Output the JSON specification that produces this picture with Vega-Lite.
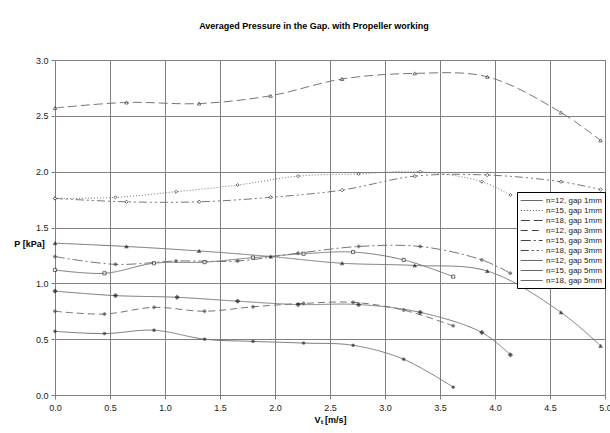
{
  "$schema": "https://vega.github.io/schema/vega-lite/v6.json",
  "width": 550,
  "height": 335,
  "autosize": {"type": "none"},
  "padding": {"left": 55, "top": 60, "right": 5, "bottom": 38},
  "background": "white",
  "title": {
    "text": "Averaged Pressure in the Gap. with Propeller working",
    "font": "Liberation Sans",
    "fontSize": 9,
    "fontWeight": "bold",
    "color": "#000",
    "anchor": "middle",
    "dx": -16,
    "offset": 25
  },
  "data": {
    "values": [
      {"s": "n=12, gap 1mm", "v": 0, "p": 1.12},
      {"s": "n=12, gap 1mm", "v": 0.45, "p": 1.09},
      {"s": "n=12, gap 1mm", "v": 0.9, "p": 1.18},
      {"s": "n=12, gap 1mm", "v": 1.36, "p": 1.19},
      {"s": "n=12, gap 1mm", "v": 1.8, "p": 1.23},
      {"s": "n=12, gap 1mm", "v": 2.26, "p": 1.265},
      {"s": "n=12, gap 1mm", "v": 2.71, "p": 1.28},
      {"s": "n=12, gap 1mm", "v": 3.17, "p": 1.21},
      {"s": "n=12, gap 1mm", "v": 3.62, "p": 1.06},

      {"s": "n=15, gap 1mm", "v": 0, "p": 1.76},
      {"s": "n=15, gap 1mm", "v": 0.55, "p": 1.77},
      {"s": "n=15, gap 1mm", "v": 1.1, "p": 1.82},
      {"s": "n=15, gap 1mm", "v": 1.66, "p": 1.88},
      {"s": "n=15, gap 1mm", "v": 2.21, "p": 1.96},
      {"s": "n=15, gap 1mm", "v": 2.76, "p": 1.98},
      {"s": "n=15, gap 1mm", "v": 3.32, "p": 2.0},
      {"s": "n=15, gap 1mm", "v": 3.88, "p": 1.91},
      {"s": "n=15, gap 1mm", "v": 4.14, "p": 1.79},

      {"s": "n=18, gap 1mm", "v": 0, "p": 2.57},
      {"s": "n=18, gap 1mm", "v": 0.65, "p": 2.62},
      {"s": "n=18, gap 1mm", "v": 1.31, "p": 2.61},
      {"s": "n=18, gap 1mm", "v": 1.96, "p": 2.68},
      {"s": "n=18, gap 1mm", "v": 2.61, "p": 2.83},
      {"s": "n=18, gap 1mm", "v": 3.27, "p": 2.88},
      {"s": "n=18, gap 1mm", "v": 3.93, "p": 2.85},
      {"s": "n=18, gap 1mm", "v": 4.6, "p": 2.53},
      {"s": "n=18, gap 1mm", "v": 4.96, "p": 2.28},

      {"s": "n=12, gap 3mm", "v": 0, "p": 0.75},
      {"s": "n=12, gap 3mm", "v": 0.45, "p": 0.725},
      {"s": "n=12, gap 3mm", "v": 0.9, "p": 0.785},
      {"s": "n=12, gap 3mm", "v": 1.36, "p": 0.75},
      {"s": "n=12, gap 3mm", "v": 1.8, "p": 0.79},
      {"s": "n=12, gap 3mm", "v": 2.26, "p": 0.82},
      {"s": "n=12, gap 3mm", "v": 2.71, "p": 0.83},
      {"s": "n=12, gap 3mm", "v": 3.17, "p": 0.76},
      {"s": "n=12, gap 3mm", "v": 3.62, "p": 0.62},

      {"s": "n=15, gap 3mm", "v": 0, "p": 1.24},
      {"s": "n=15, gap 3mm", "v": 0.55, "p": 1.17},
      {"s": "n=15, gap 3mm", "v": 1.1, "p": 1.2},
      {"s": "n=15, gap 3mm", "v": 1.66, "p": 1.2},
      {"s": "n=15, gap 3mm", "v": 2.21, "p": 1.27},
      {"s": "n=15, gap 3mm", "v": 2.76, "p": 1.33},
      {"s": "n=15, gap 3mm", "v": 3.32, "p": 1.33},
      {"s": "n=15, gap 3mm", "v": 3.88, "p": 1.21},
      {"s": "n=15, gap 3mm", "v": 4.14, "p": 1.09},

      {"s": "n=18, gap 3mm", "v": 0, "p": 1.76},
      {"s": "n=18, gap 3mm", "v": 0.65, "p": 1.73},
      {"s": "n=18, gap 3mm", "v": 1.31, "p": 1.73},
      {"s": "n=18, gap 3mm", "v": 1.96, "p": 1.77},
      {"s": "n=18, gap 3mm", "v": 2.61, "p": 1.835},
      {"s": "n=18, gap 3mm", "v": 3.27, "p": 1.96},
      {"s": "n=18, gap 3mm", "v": 3.93, "p": 1.97},
      {"s": "n=18, gap 3mm", "v": 4.6, "p": 1.91},
      {"s": "n=18, gap 3mm", "v": 4.96, "p": 1.84},

      {"s": "n=12, gap 5mm", "v": 0, "p": 0.57},
      {"s": "n=12, gap 5mm", "v": 0.45, "p": 0.55},
      {"s": "n=12, gap 5mm", "v": 0.9, "p": 0.58},
      {"s": "n=12, gap 5mm", "v": 1.36, "p": 0.5},
      {"s": "n=12, gap 5mm", "v": 1.8, "p": 0.48},
      {"s": "n=12, gap 5mm", "v": 2.26, "p": 0.465},
      {"s": "n=12, gap 5mm", "v": 2.71, "p": 0.445},
      {"s": "n=12, gap 5mm", "v": 3.17, "p": 0.32},
      {"s": "n=12, gap 5mm", "v": 3.62, "p": 0.07},

      {"s": "n=15, gap 5mm", "v": 0, "p": 0.93},
      {"s": "n=15, gap 5mm", "v": 0.55, "p": 0.89},
      {"s": "n=15, gap 5mm", "v": 1.11, "p": 0.875},
      {"s": "n=15, gap 5mm", "v": 1.66, "p": 0.84},
      {"s": "n=15, gap 5mm", "v": 2.21, "p": 0.81},
      {"s": "n=15, gap 5mm", "v": 2.76, "p": 0.81},
      {"s": "n=15, gap 5mm", "v": 3.32, "p": 0.74},
      {"s": "n=15, gap 5mm", "v": 3.88, "p": 0.56},
      {"s": "n=15, gap 5mm", "v": 4.14, "p": 0.36},

      {"s": "n=18, gap 5mm", "v": 0, "p": 1.36},
      {"s": "n=18, gap 5mm", "v": 0.65, "p": 1.33},
      {"s": "n=18, gap 5mm", "v": 1.31, "p": 1.29},
      {"s": "n=18, gap 5mm", "v": 1.96, "p": 1.24},
      {"s": "n=18, gap 5mm", "v": 2.61, "p": 1.18},
      {"s": "n=18, gap 5mm", "v": 3.27, "p": 1.16},
      {"s": "n=18, gap 5mm", "v": 3.93, "p": 1.11},
      {"s": "n=18, gap 5mm", "v": 4.6, "p": 0.74},
      {"s": "n=18, gap 5mm", "v": 4.96, "p": 0.44}
    ]
  },
  "encoding": {
    "x": {
      "field": "v", "type": "quantitative",
      "scale": {"domain": [0, 5], "nice": false, "zero": true},
      "axis": {
        "title": "Vₜ [m/s]",
        "values": [0, 0.5, 1, 1.5, 2, 2.5, 3, 3.5, 4, 4.5, 5],
        "format": ".1f",
        "grid": true,
        "gridColor": "#808080",
        "gridOpacity": 1,
        "domainColor": "#808080",
        "tickColor": "#808080",
        "tickSize": 4,
        "labelPadding": 4,
        "labelFont": "Liberation Sans",
        "labelFontSize": 9,
        "labelColor": "#222",
        "titleFont": "Liberation Sans",
        "titleFontSize": 9,
        "titleFontWeight": "bold",
        "titleColor": "#000",
        "titleY": 24,
        "titleBaseline": "middle",
        "labelFlush": false
      }
    },
    "y": {
      "field": "p", "type": "quantitative",
      "scale": {"domain": [0, 3], "nice": false},
      "axis": {
        "title": "P [kPa]",
        "values": [0, 0.5, 1, 1.5, 2, 2.5, 3],
        "format": ".1f",
        "grid": true,
        "gridColor": "#808080",
        "gridOpacity": 1,
        "domainColor": "#808080",
        "tickColor": "#808080",
        "tickSize": 4,
        "labelPadding": 3,
        "labelFont": "Liberation Sans",
        "labelFontSize": 9,
        "labelColor": "#222",
        "titleFont": "Liberation Sans",
        "titleFontSize": 9,
        "titleFontWeight": "bold",
        "titleColor": "#000",
        "titleAngle": 0,
        "titleAlign": "center",
        "titleBaseline": "middle",
        "titleX": -26,
        "titleY": 183,
        "labelFlush": false
      }
    }
  },
  "layer": [
    {
      "mark": {"type": "line", "interpolate": "catmull-rom", "strokeWidth": 1, "color": "#777777"},
      "encoding": {
        "detail": {"field": "s"},
        "strokeDash": {
          "field": "s", "type": "nominal",
          "scale": {
            "domain": ["n=12, gap 1mm", "n=15, gap 1mm", "n=18, gap 1mm", "n=12, gap 3mm", "n=15, gap 3mm", "n=18, gap 3mm", "n=12, gap 5mm", "n=15, gap 5mm", "n=18, gap 5mm"],
            "range": [[1, 0], [1, 2], [9, 4], [7, 4], [10, 3, 2, 3], [8, 3, 2, 3, 2, 3], [1, 0], [1, 0], [1, 0]]
          },
          "legend": {
            "title": null,
            "orient": "none",
            "legendX": 462,
            "legendY": 132,
            "symbolType": "M-1,0H3.6",
            "symbolSize": 90,
            "symbolStrokeWidth": 1,
            "symbolStrokeColor": "#444",
            "symbolFillColor": "transparent",
            "labelFont": "Liberation Sans",
            "labelFontSize": 8,
            "labelColor": "#222",
            "rowPadding": 0,
            "padding": 3,
            "fillColor": "white",
            "strokeColor": "#000",
            "labelOffset": 15
          }
        }
      }
    },
    {"transform": [{"filter": "datum.s == 'n=12, gap 1mm'"}], "mark": {"type": "point", "shape": "square", "size": 10, "filled": true, "fill": "white", "stroke": "#333", "strokeWidth": 1}},
    {"transform": [{"filter": "datum.s == 'n=15, gap 1mm'"}], "mark": {"type": "point", "shape": "diamond", "size": 10, "filled": true, "fill": "white", "stroke": "#333", "strokeWidth": 1}},
    {"transform": [{"filter": "datum.s == 'n=18, gap 1mm'"}], "mark": {"type": "point", "shape": "triangle-up", "size": 12, "filled": true, "fill": "white", "stroke": "#333", "strokeWidth": 1}},
    {"transform": [{"filter": "datum.s == 'n=12, gap 3mm'"}], "mark": {"type": "point", "shape": "cross", "size": 10, "filled": true, "fill": "#444", "stroke": "#444", "strokeWidth": 0.5}},
    {"transform": [{"filter": "datum.s == 'n=15, gap 3mm'"}], "mark": {"type": "point", "shape": "cross", "size": 10, "filled": true, "fill": "#444", "stroke": "#444", "strokeWidth": 0.5}},
    {"transform": [{"filter": "datum.s == 'n=18, gap 3mm'"}], "mark": {"type": "point", "shape": "diamond", "size": 12, "filled": true, "fill": "white", "stroke": "#333", "strokeWidth": 1}},
    {"transform": [{"filter": "datum.s == 'n=12, gap 5mm'"}], "mark": {"type": "point", "shape": "circle", "size": 8, "filled": true, "fill": "#222", "stroke": "#222", "strokeWidth": 0.5}},
    {"transform": [{"filter": "datum.s == 'n=15, gap 5mm'"}], "mark": {"type": "point", "shape": "cross", "size": 14, "filled": true, "fill": "#111", "stroke": "#111", "strokeWidth": 0.5}},
    {"transform": [{"filter": "datum.s == 'n=18, gap 5mm'"}], "mark": {"type": "point", "shape": "triangle-up", "size": 14, "filled": true, "fill": "#111", "stroke": "#111", "strokeWidth": 0.5}}
  ],
  "config": {
    "view": {"stroke": "#808080"},
    "font": "Liberation Sans"
  }
}
